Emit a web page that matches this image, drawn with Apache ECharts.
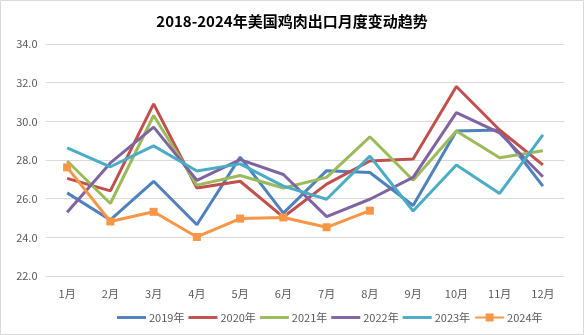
<!DOCTYPE html>
<html><head><meta charset="utf-8">
<script src="https://cdn.jsdelivr.net/npm/echarts@6/dist/echarts.min.js"></script>
<style>html,body{margin:0;padding:0;background:#fff}#c{width:584px;height:335px}</style>
</head><body><div id="c"></div>
<script>
const months = ['1月','2月','3月','4月','5月','6月','7月','8月','9月','10月','11月','12月'];
const yTicks = [22, 24, 26, 28, 30, 32, 34];
const seriesNames = ['2019年','2020年','2021年','2022年','2023年','2024年'];
const s2019 = [26.3, 24.9, 26.9, 24.65, 28.15, 25.25, 27.45, 27.35, 25.65, 29.5, 29.55, 26.65];
const s2020 = [27.05, 26.4, 30.9, 26.55, 26.9, 25.05, 26.75, 27.95, 28.05, 31.8, 29.55, 27.75];
const s2021 = [27.95, 25.75, 30.3, 26.7, 27.2, 26.55, 27.1, 29.2, 26.95, 29.5, 28.12, 28.48];
const s2022 = [25.3, 27.85, 29.7, 26.95, 28.02, 27.25, 25.07, 25.97, 27.1, 30.45, 29.4, 27.13];
const s2023 = [28.63, 27.65, 28.73, 27.43, 27.8, 26.65, 25.97, 28.2, 25.36, 27.74, 26.27, 29.3];
const s2024 = [27.62, 24.82, 25.32, 24.02, 24.97, 25.03, 24.52, 25.38];
const colors = ['#4F81BD','#C0504D','#9BBB59','#8064A2','#4BACC6','#F79646'];
const allData = [s2019, s2020, s2021, s2022, s2023, s2024];

const chart = echarts.init(document.getElementById('c'));
chart.setOption({
  animation: false,
  color: colors,
  title: {
    text: '2018-2024年美国鸡肉出口月度变动趋势',
    left: 'center', top: 9,
    textStyle: {fontSize: 15, fontWeight: 'bold', color: '#000', fontFamily: 'Noto Sans CJK SC'}
  },
  graphic: [{
    type: 'rect', shape: {x: 0.5, y: 0.5, width: 583, height: 334},
    style: {fill: 'none', stroke: '#d9d9d9', lineWidth: 1}, silent: true
  }],
  legend: {
    top: 307, left: 112, itemWidth: 29, itemHeight: 10, itemGap: 4,
    textStyle: {fontSize: 11, color: '#595959', fontFamily: 'Noto Sans CJK SC', padding: [0,0,0,-2]},
    data: seriesNames.map((n, i) => ({name: n, icon: i === 5 ? undefined : 'path://M0,0H10V1H0Z'}))
  },
  grid: {left: 45.5, right: 19.5, top: 44, bottom: 59},
  xAxis: {
    type: 'category', data: months, boundaryGap: true,
    axisLine: {show: false}, axisTick: {show: false},
    axisLabel: {color: '#595959', fontSize: 11, margin: 12, fontFamily: 'Noto Sans CJK SC'}
  },
  yAxis: {
    type: 'value', min: yTicks[0], max: yTicks[yTicks.length-1], interval: 2,
    axisLine: {show: false}, axisTick: {show: false},
    axisLabel: {color: '#595959', fontSize: 11, margin: 8, formatter: v => v.toFixed(1), fontFamily: 'Noto Sans CJK SC'},
    splitLine: {lineStyle: {color: '#d9d9d9', width: 1}}
  },
  series: allData.map((d, i) => ({
    name: seriesNames[i], type: 'line', data: d,
    symbol: i === 5 ? 'rect' : 'none', symbolSize: 8, showSymbol: i === 5,
    lineStyle: {width: 3, color: colors[i]},
    itemStyle: {color: colors[i]}
  }))
});
</script></body></html>
